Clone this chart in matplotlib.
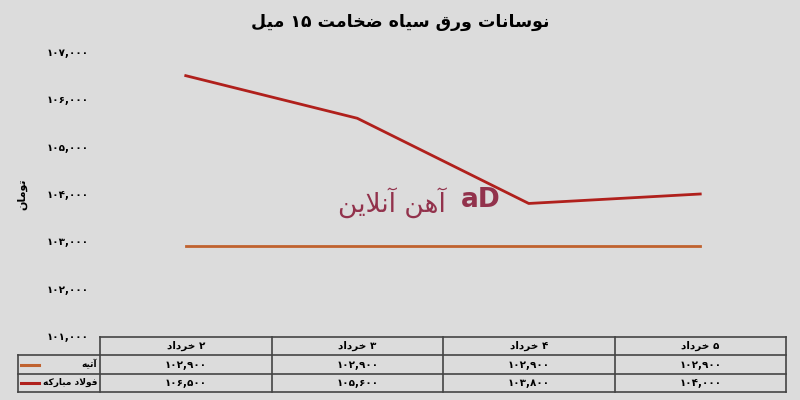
import matplotlib.pyplot as plt

# data
days = ['۲ خرداد', '۳ خرداد', '۴ خرداد', '۵ خرداد']
atieh = [102900, 102900, 102900, 102900]
mobarakeh = [106500, 105600, 103800, 104000]
series_names = ['آتیه', 'فولاد مبارکه']
y_ticks = [101000, 102000, 103000, 104000, 105000, 106000, 107000]
title = 'نوسانات ورق سیاه ضخامت ۱۵ میل'
y_label = 'تومان'
watermark = 'آهن آنلاین'

# matplotlib does no arabic shaping, so pick presentation forms by hand
# (isolated, final, initial, medial); None = letter does not join to the next one
FORMS = {
    'آ': ('\uFE81', '\uFE82', None, None),
    'ا': ('\uFE8D', '\uFE8E', None, None),
    'ب': ('\uFE8F', '\uFE90', '\uFE91', '\uFE92'),
    'ت': ('\uFE95', '\uFE96', '\uFE97', '\uFE98'),
    'خ': ('\uFEA5', '\uFEA6', '\uFEA7', '\uFEA8'),
    'د': ('\uFEA9', '\uFEAA', None, None),
    'ر': ('\uFEAD', '\uFEAE', None, None),
    'س': ('\uFEB1', '\uFEB2', '\uFEB3', '\uFEB4'),
    'ض': ('\uFEBD', '\uFEBE', '\uFEBF', '\uFEC0'),
    'ف': ('\uFED1', '\uFED2', '\uFED3', '\uFED4'),
    'ق': ('\uFED5', '\uFED6', '\uFED7', '\uFED8'),
    'ل': ('\uFEDD', '\uFEDE', '\uFEDF', '\uFEE0'),
    'م': ('\uFEE1', '\uFEE2', '\uFEE3', '\uFEE4'),
    'ن': ('\uFEE5', '\uFEE6', '\uFEE7', '\uFEE8'),
    'ه': ('\uFEE9', '\uFEEA', '\uFEEB', '\uFEEC'),
    'و': ('\uFEED', '\uFEEE', None, None),
    'ی': ('\uFBFC', '\uFBFD', '\uFBFE', '\uFBFF'),
    'ک': ('\uFB8E', '\uFB8F', '\uFB90', '\uFB91'),
    'ﻻ': ('\uFEFB', '\uFEFC', None, None),
    'ﻵ': ('\uFEF5', '\uFEF6', None, None),
}


def shape_word(w):
    w = w.replace('لا', 'ﻻ').replace('لآ', 'ﻵ')
    out = []
    for i, c in enumerate(w):
        if c not in FORMS:
            out.append(c)
            continue
        prev_join = i > 0 and w[i - 1] in FORMS and FORMS[w[i - 1]][2] is not None
        next_join = i < len(w) - 1 and w[i + 1] in FORMS and FORMS[c][2] is not None
        iso, fin, ini, med = FORMS[c]
        if prev_join and next_join:
            out.append(med)
        elif prev_join:
            out.append(fin)
        elif next_join:
            out.append(ini)
        else:
            out.append(iso)
    return ''.join(out[::-1])


def fa(text):
    words = []
    for w in text.split(' '):
        if any(c in FORMS or c in 'لا' for c in w):
            words.append(shape_word(w))
        else:
            words.append(w)
    return ' '.join(words[::-1])


def fa_num(v):
    s = f'{v:,}'
    return s.translate(str.maketrans('0123456789', '۰۱۲۳۴۵۶۷۸۹'))


bg = '#dcdcdc'
colors = ['#c0622f', '#b0201c']

fig = plt.figure(figsize=(8, 4), dpi=100, facecolor=bg)
ax = fig.add_axes([0.125, 0.16, 0.8575, 0.71], facecolor=bg)

# watermark, behind the lines
ax.text(0.425, 0.47, fa(watermark), transform=ax.transAxes, ha='center', va='center',
        fontsize=19, color='#8a1f3c', alpha=0.9, zorder=0)
ax.text(0.555, 0.48, 'aD', transform=ax.transAxes, ha='center', va='center',
        fontsize=19, fontweight='bold', color='#8a1f3c', alpha=0.9, zorder=0)

x = list(range(len(days)))
ax.plot(x, atieh, color=colors[0], linewidth=2)
ax.plot(x, mobarakeh, color=colors[1], linewidth=2)
ax.set_xlim(-0.5, len(days) - 0.5)
ax.set_ylim(y_ticks[0], y_ticks[-1])
ax.set_yticks(y_ticks)
ax.set_yticklabels([fa_num(v) for v in y_ticks], fontsize=7.5, fontweight='bold')
ax.tick_params(axis='y', length=0, pad=8)
ax.set_xticks([])
for s in ax.spines.values():
    s.set_visible(False)
ax.set_ylabel(fa(y_label), fontsize=8, fontweight='bold', labelpad=14)

fig.text(0.5, 0.945, fa(title), ha='center', va='center', fontsize=12.5, fontweight='bold')

# data table under the plot
tab = fig.add_axes([0.125, 0.02, 0.8575, 0.1375], facecolor=bg)
tab.set_xlim(-0.5, len(days) - 0.5)
tab.set_ylim(0, 3)
tab.axis('off')
edge = '#444444'
label_left = -0.5 - 82 / 171.5
for i in range(len(days) + 1):
    tab.plot([i - 0.5, i - 0.5], [0, 3], color=edge, lw=1.2, clip_on=False)
for yy in [0, 1, 2]:
    tab.plot([label_left, len(days) - 0.5], [yy, yy], color=edge, lw=1.2, clip_on=False)
tab.plot([-0.5, len(days) - 0.5], [3, 3], color=edge, lw=1.2, clip_on=False)
tab.plot([label_left, label_left], [0, 2], color=edge, lw=1.2, clip_on=False)

for i, d in enumerate(days):
    tab.text(i, 2.5, fa(d), ha='center', va='center', fontsize=7.5, fontweight='bold')
rows = [atieh, mobarakeh]
for r, (name, vals) in enumerate(zip(series_names, rows)):
    yc = 1.5 - r
    for i, v in enumerate(vals):
        tab.text(i, yc, fa_num(v), ha='center', va='center', fontsize=7.5, fontweight='bold')
    tab.text(-0.515, yc, fa(name), ha='right', va='center', fontsize=6.5, fontweight='bold',
             clip_on=False)
    tab.plot([label_left + 0.02, label_left + 0.125], [yc, yc], color=colors[r], lw=2.2,
             clip_on=False)

fig.savefig('out.png', dpi=100, facecolor=bg)
